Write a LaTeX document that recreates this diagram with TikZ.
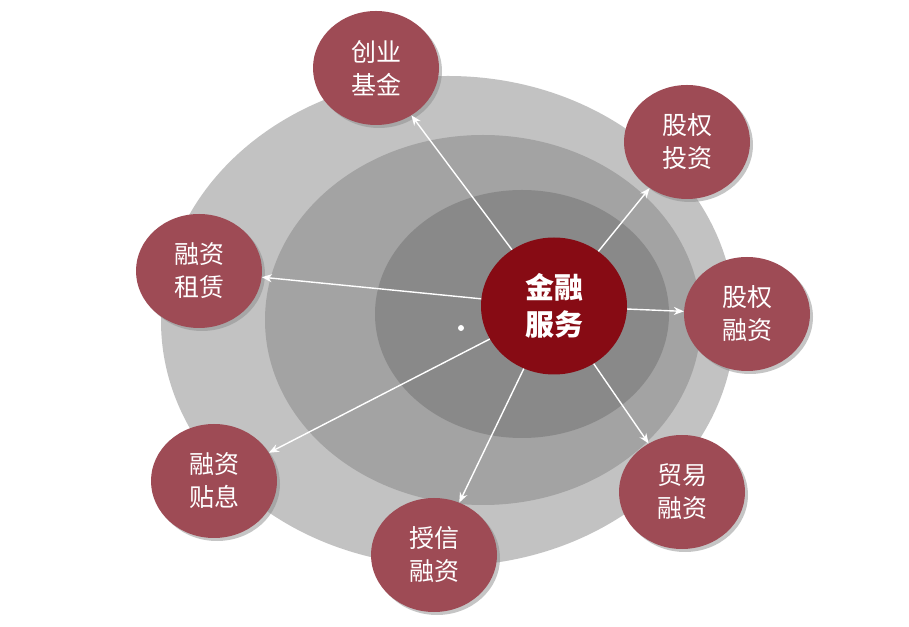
\documentclass[tikz,border=0pt]{standalone}
\usepackage{fontspec}
\newfontfamily\cjk{Noto Sans CJK SC}
\usetikzlibrary{shapes.geometric,arrows.meta,shadows}
\definecolor{satred}{HTML}{9E4B55}
\definecolor{cenred}{HTML}{870B14}
\definecolor{ringA}{HTML}{C2C2C2}
\definecolor{ringB}{HTML}{A3A3A3}
\definecolor{ringC}{HTML}{898989}
\tikzset{
  sat/.style={ellipse, minimum width=126pt, minimum height=114pt, inner sep=0pt,
    fill=satred, text=white, align=center,
    font=\cjk\fontsize{25}{33}\selectfont,
    drop shadow={shadow xshift=3pt, shadow yshift=-3pt, fill=black!45, opacity=0.5}},
  cen/.style={ellipse, minimum width=146pt, minimum height=137pt, inner sep=0pt,
    fill=cenred, text=white, align=center,
    font=\cjk\bfseries\fontsize{29}{37}\selectfont},
  arr/.style={draw=white, line width=1.4pt, -{Stealth[length=10pt,width=8pt]}}
}
\begin{document}
\begin{tikzpicture}[x=1pt,y=1pt]
\useasboundingbox (0,0) rectangle (909,626);
\fill[white] (0,0) rectangle (909,626);
\fill[ringA] (448,305) ellipse [x radius=287pt, y radius=245pt];
\fill[ringB] (483,306) ellipse [x radius=218pt, y radius=185pt];
\fill[ringC] (522,312) ellipse [x radius=147pt, y radius=124pt];
\fill[white] (461,298) circle [radius=3pt];
\node[cen] (c) at (554,320) {金融\\服务};
\node[sat] (s1) at (376,558) {创业\\基金};
\node[sat] (s2) at (687,484) {股权\\投资};
\node[sat] (s3) at (199,355) {融资\\租赁};
\node[sat] (s4) at (747,312) {股权\\融资};
\node[sat] (s5) at (214,145) {融资\\贴息};
\node[sat] (s6) at (434,71) {授信\\融资};
\node[sat] (s7) at (682,134) {贸易\\融资};
\foreach \s in {s1,s2,s3,s4,s5,s6,s7} \draw[arr] (c) -- (\s);
\end{tikzpicture}
\end{document}
